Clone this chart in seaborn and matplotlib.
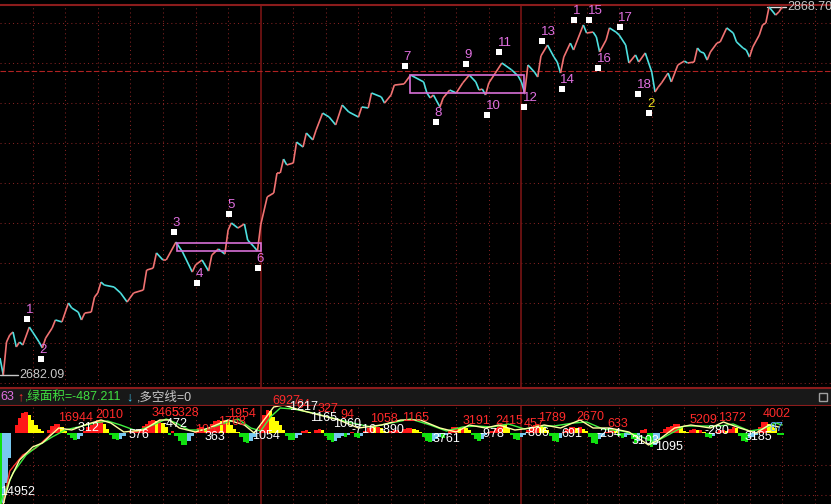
import matplotlib
matplotlib.use('Agg')
import matplotlib.pyplot as plt
from matplotlib.collections import LineCollection
from matplotlib.patches import Rectangle
import numpy as np
import seaborn as sns

# ---- price line (minute index, index level) ----
minute = [0, 1, 2, 3, 4, 5, 6, 7, 9, 10,
          12, 13, 14, 16, 17, 19, 21, 22, 24, 25,
          26, 28, 29, 30, 31, 32, 35, 37, 39, 41,
          44, 45, 47, 48, 50, 51, 54, 56, 59, 60,
          62, 64, 65, 67, 69, 70, 71, 73, 75, 76,
          78, 79, 80, 82, 84, 85, 86, 87, 88, 90,
          91, 93, 94, 96, 97, 99, 101, 103, 105, 107,
          110, 111, 113, 114, 117, 118, 120, 121, 124, 126,
          130, 131, 132, 133, 135, 136, 138, 140, 142, 144,
          146, 147, 148, 149, 150, 152, 154, 157, 159, 160,
          161, 162, 164, 165, 166, 168, 170, 171, 172, 173,
          175, 176, 179, 180, 182, 183, 184, 186, 187, 189,
          190, 192, 193, 195, 196, 198, 200, 201, 202, 203,
          205, 206, 208, 210, 211, 213, 214, 215, 216, 217,
          218, 220, 221, 223, 225, 226, 228, 229, 230, 231,
          233, 234, 235, 236, 238, 239, 240]
price = [2690.7, 2682.1, 2698.8, 2702.4, 2703.9, 2696.3, 2698.8, 2697.3, 2706.4, 2703.9,
         2698.8, 2695.8, 2700.8, 2705.9, 2710.0, 2709.0, 2718.6, 2716.1, 2714.0, 2710.0,
         2713.5, 2714.0, 2721.6, 2723.7, 2729.2, 2727.7, 2726.7, 2723.7, 2719.1, 2723.7,
         2725.2, 2735.3, 2736.3, 2744.0, 2740.4, 2740.4, 2749.5, 2744.5, 2734.3, 2737.9,
         2740.4, 2734.8, 2742.9, 2746.0, 2743.4, 2755.6, 2759.2, 2756.6, 2758.7, 2750.5,
         2747.0, 2745.0, 2758.2, 2772.4, 2774.4, 2784.5, 2784.5, 2791.6, 2788.6, 2789.6,
         2800.2, 2797.7, 2804.8, 2801.3, 2806.3, 2814.9, 2812.9, 2808.9, 2819.0, 2815.5,
         2812.9, 2818.0, 2817.5, 2825.1, 2823.1, 2820.0, 2824.1, 2829.1, 2829.7, 2834.2,
         2830.7, 2825.1, 2822.6, 2824.1, 2818.0, 2822.6, 2826.6, 2825.1, 2830.2, 2834.2,
         2830.7, 2826.6, 2827.1, 2824.1, 2830.2, 2835.2, 2840.3, 2836.8, 2833.7, 2830.7,
         2825.1, 2839.3, 2835.7, 2833.2, 2843.9, 2849.4, 2843.3, 2840.8, 2835.2, 2843.3,
         2850.4, 2846.9, 2859.6, 2855.5, 2856.0, 2853.5, 2845.9, 2852.0, 2858.1, 2856.0,
         2854.5, 2849.4, 2840.3, 2844.4, 2840.8, 2845.4, 2835.7, 2825.6, 2828.1, 2830.2,
         2835.2, 2830.7, 2839.3, 2841.3, 2840.3, 2840.8, 2847.9, 2845.9, 2845.4, 2841.8,
         2845.9, 2850.4, 2851.0, 2858.1, 2855.5, 2851.0, 2847.9, 2846.9, 2843.3, 2848.4,
         2854.5, 2859.6, 2860.6, 2868.7, 2864.6, 2866.2, 2868.7]
low_price = 2682.09
high_price = 2868.70
ref_level = 2836.25

# numbered turning points
mark_text = ['1', '2', '3', '4', '5', '6', '7', '8', '9', '10',
             '11', '12', '13', '14', '1', '15', '16', '17', '18', '2']
mark_minute = [8.3, 12.6, 53.4, 60.4, 70.3, 79.2, 124.3, 133.8, 143.0, 149.4,
               153.1, 160.8, 166.3, 172.4, 176.1, 180.7, 183.5, 190.2, 195.8, 199.1]
mark_price = [2710.5, 2690.2, 2754.6, 2728.7, 2763.7, 2736.3, 2838.8, 2810.4, 2839.8, 2813.9,
              2845.9, 2818.0, 2851.5, 2827.1, 2862.1, 2862.1, 2837.8, 2858.6, 2824.6, 2814.9]

# consolidation boxes
box_start = [54.3, 125.8]
box_end = [80.1, 160.8]
box_low = [2745.0, 2825.1]
box_high = [2749.0, 2834.2]

# ---- lower indicator histogram, one bar per minute ----
hist_values = [-72, -70, -50, -25, 0, 8, 15, 20, 21, 18,
               13, 8, 4, 2, 0, 3, 7, 9, 9, 6,
               2, -2, -5, -7, -6, -3, 2, 6, 8, 10,
               13, 13, 9, 4, -2, -6, -7, -6, -3, 0,
               1, 2, 3, 4, 7, 9, 12, 13, 12, 13,
               10, 6, -2, 2, -3, -8, -12, -12, -8, -3,
               2, 5, 6, 4, 6, 9, 12, 13, 12, 13,
               12, 8, 4, 1, -4, -9, -10, -8, -4, -1,
               8, 18, 23, 22, 16, 12, 8, 3, -3, -7,
               -7, -5, -2, 2, 3, 1, 0, 3, 4, 3,
               -3, -7, -9, -8, -5, -3, -4, -2, 1, -4,
               -5, -3, 2, 5, 7, 6, 6, 5, 2, 1,
               2, 3, 3, 1, 4, 5, 5, 4, 3, 1,
               -4, -8, -9, -8, -6, -4, -5, -2, 3, 6,
               6, 5, 6, 5, 3, -2, -6, -8, -6, -2,
               1, 2, 5, 8, 9, 8, 5, -2, -6, -7,
               -4, -2, 3, 6, 8, 9, 7, 6, 3, -3,
               -8, -9, -5, 1, 4, 6, 6, 5, 6, 4,
               2, -4, -10, -11, -6, -3, 1, 3, 4, 2,
               -3, -5, -4, -2, -6, -10, -8, 3, 4, -8,
               -14, -12, -6, 1, 4, 6, 7, 9, 9, 6,
               2, 1, 3, 4, 3, 3, 1, -4, -5, -3,
               1, 3, 3, 2, 4, 6, 5, -3, -8, -9,
               -5, -4, -2, 6, 11, 11, 9, 8, 5, -2,
               -2]

ylw_min = [1, 3, 6, 10, 13, 18, 22, 26, 31, 34, 38, 44, 49, 52, 55, 60, 64, 70, 75, 78,
           81, 84, 87, 92, 98, 104, 110, 117, 123, 129, 135, 140, 144, 149, 153, 158, 163,
           167, 172, 178, 182, 187, 193, 199, 202, 207, 212, 218, 222, 227, 232, 236, 239]
ylw_val = [-71, -47, -27, -14, -10, 5, 3, 8, 13, 10, 1, 3, 13, 13, 5, 1, 5, 13, 8, 0,
           13, 26, 28, 23, 18, 13, 5, 8, 13, 13, 5, 1, 8, 5, 8, 3, 5,
           8, 5, 13, 5, 5, 1, -12, -7, 5, 8, 5, 11, 5, 0, 8, 6]
grn_min = [0, 4, 8, 12, 16, 20, 24, 29, 33, 37, 42, 47, 51, 54, 58, 63, 68, 73, 77, 80,
           83, 86, 90, 96, 102, 108, 114, 120, 126, 132, 137, 142, 146, 151, 156, 161, 165,
           170, 176, 180, 185, 191, 197, 201, 205, 210, 216, 221, 225, 230, 234, 238, 240]
grn_val = [-71, -40, -22, -12, -4, 3, 6, 10, 12, 8, 2, 8, 14, 10, 3, 3, 9, 14, 5, 2,
           16, 25, 24, 20, 15, 10, 6, 10, 14, 8, 2, 6, 7, 6, 9, 4, 7,
           7, 10, 11, 4, 2, -4, -9, -2, 7, 7, 7, 9, 2, 4, 10, 8]
red_min = [1, 3, 7, 11, 15, 17]
red_val = [-71, -38, -22, -15, -3, 5]

# value labels on the indicator
peak_text = ['16944', '2010', '3465', '5328', '105', '1768', '1954', '6927', '64', '327',
             '94', '1058', '1165', '3191', '2415', '457', '1789', '2670', '633', '5209',
             '1372', '4002']
peak_min = [17.8, 29.1, 46.6, 52.5, 59.8, 66.9, 70.0, 83.7, 90.8, 97.5,
            104.3, 113.5, 123.3, 142.0, 152.1, 160.7, 165.0, 177.0, 186.5, 211.7,
            220.2, 234.0]
peak_val = [15, 18, 20, 20, 3, 11, 19, 32, 28, 24,
            18, 14, 15, 12, 12, 9, 15, 16, 9, 13,
            15, 19]
trough_text = ['14952', '-312', '576', '-472', '363', '1054', '-1217', '1165', '1060', '-716',
               '-890', '3761', '-978', '-806', '691', '-254', '3103', '1095', '-280', '3185']
trough_min = [0.0, 23.0, 39.3, 50.0, 62.9, 77.3, 88.0, 95.1, 102.1, 108.0,
              116.6, 132.8, 147.2, 161.0, 172.4, 183.1, 193.9, 200.9, 216.3, 228.5]
trough_val = [-59, 5, -2, 9, -4, -3, 26, 15, 9, 3,
              3, -6, -1, 0, -1, -1, -8, -14, 2, -4]

sns.set_theme(style='dark')
plt.rcParams['font.family'] = ['Liberation Sans', 'Noto Sans CJK SC', 'DejaVu Sans']
plt.rcParams['axes.unicode_minus'] = False

W, H = 831, 504
fig = plt.figure(figsize=(W / 100, H / 100), dpi=100, facecolor='black')

grid_col = '#842222'
frame_col = '#8c1c1c'
solid_col = '#781414'
ppx = (high_price - low_price) / 368.0   # index points per pixel


def draw_vgrid(a):
    for k in range(1, 26):
        if k in (8, 16):
            a.axvline(10 * k, color=solid_col, lw=1.2)
        else:
            a.axvline(10 * k, color=grid_col, lw=0.75, ls=(0, (1, 3)))


# main price panel (y 5..388 px)
ax = fig.add_axes([0, (H - 388) / H, 1, 383 / H])
ax.set_facecolor('black')
ax.set_xlim(0, 255)
ax.set_ylim(low_price - 13 * ppx, high_price + 2 * ppx)
ax.set_xticks([])
ax.set_yticks([])
for s in ['left', 'right', 'bottom']:
    ax.spines[s].set_visible(False)
ax.spines['top'].set_color(frame_col)
ax.spines['top'].set_linewidth(1.5)

# dotted grid
for k in range(10):
    f = (383 - 18 - 40 * k) / 383
    ax.plot([0, 1], [f, f], transform=ax.transAxes, color=grid_col, lw=0.75, ls=(0, (1, 3)))
draw_vgrid(ax)
ax.axhline(ref_level, color='#b02222', lw=0.8, ls=(0, (5, 2)))

# price line, red when rising, cyan when falling
pts = np.column_stack([minute, price])
segs = np.stack([pts[:-1], pts[1:]], axis=1)
diff = np.diff(price)
cols = ['#f07272' if d >= 0 else '#4ee0e0' for d in diff]
ax.add_collection(LineCollection(segs, colors=cols, linewidths=1.2, zorder=3))

for s0, s1, lo, hi in zip(box_start, box_end, box_low, box_high):
    ax.add_patch(Rectangle((s0, lo), s1 - s0, hi - lo, fill=False, ec='#d870d8', lw=1.2, zorder=4))

ax.scatter(mark_minute, mark_price, marker='s', s=14, color='white', zorder=5, linewidths=0)
for i, (t, x, y) in enumerate(zip(mark_text, mark_minute, mark_price)):
    c = '#f0e020' if i == len(mark_text) - 1 else '#e070e0'
    ax.annotate(t, (x, y), xytext=(-1, 2), textcoords='offset points',
                ha='left', va='bottom', color=c, fontsize=9.5, zorder=5)

# extreme labels
ax.plot([0, 5.5], [low_price, low_price], color='#c8c8c8', lw=1)
ax.text(5.8, low_price, f'{low_price:.2f}', color='#c8c8c8', fontsize=9, va='center', ha='left')
ax.plot([235.5, 241.3], [high_price, high_price], color='#e0e0e0', lw=1)
ax.text(241.6, high_price, f'{high_price:.2f}', color='#c8c8c8', fontsize=9, va='center',
        ha='left', clip_on=False)

# title band (388..406 px)
band = fig.add_axes([0, (H - 406) / H, 1, 18 / H])
band.set_facecolor('#181818')
band.set_xticks([])
band.set_yticks([])
band.set_xlim(0, W)
band.set_ylim(0, 1)
for s in ['left', 'right']:
    band.spines[s].set_visible(False)
for s in ['top', 'bottom']:
    band.spines[s].set_color(frame_col)
    band.spines[s].set_linewidth(1.5)
band_items = [(0, '63', '#e070e0'), (17, '↑', '#ff3030'), (25, ',绿面积=-487.211', '#40e040'),
              (126, '↓', '#40c8f0'), (137, ',多空线=0', '#c8c8c8')]
for x0, t, c in band_items:
    band.text(x0, 0.5, t, color=c, fontsize=9, va='center', ha='left')
band.add_patch(Rectangle((819, 0.28), 8, 0.44, fill=False, ec='#a0a0a0', lw=1))

# lower indicator panel (406..504 px)
ax2 = fig.add_axes([0, 0, 1, 98 / H])
ax2.set_facecolor('black')
ax2.set_xlim(0, 255)
ax2.set_ylim(-71, 27)
ax2.set_xticks([])
ax2.set_yticks([])
for s in ax2.spines:
    ax2.spines[s].set_visible(False)
for v in [-32, -62]:
    ax2.axhline(v, color=grid_col, lw=0.75, ls=(0, (1, 3)))
draw_vgrid(ax2)

bar_cols = []
prev = 0
for v in hist_values:
    if v >= 0:
        bar_cols.append('#ff1818' if v >= prev else '#ffff00')
    else:
        bar_cols.append('#10e010' if v <= prev else '#78c8f0')
    prev = v
ax2.bar(range(len(hist_values)), hist_values, width=1.05, color=bar_cols, linewidth=0, zorder=2)

sns.lineplot(x=red_min, y=red_val, ax=ax2, color='#ff3030', lw=1, sort=False, zorder=3)
sns.lineplot(x=grn_min, y=grn_val, ax=ax2, color='#40f040', lw=1, sort=False, zorder=3)
sns.lineplot(x=ylw_min, y=ylw_val, ax=ax2, color='#ffffa0', lw=1, sort=False, zorder=3)

for t, x, y in zip(peak_text, peak_min, peak_val):
    ax2.text(x, y, t, color='#ff2a2a', fontsize=9, ha='left', va='center', clip_on=False, zorder=6)
for t, x, y in zip(trough_text, trough_min, trough_val):
    ax2.text(x, y, t, color='white', fontsize=9, ha='left', va='center', clip_on=False, zorder=6)
ax2.text(236.2, 5, '87', color='#60a8ff', fontsize=9, ha='left', va='center', zorder=6)

fig.savefig('out.png', dpi=100, facecolor='black')
